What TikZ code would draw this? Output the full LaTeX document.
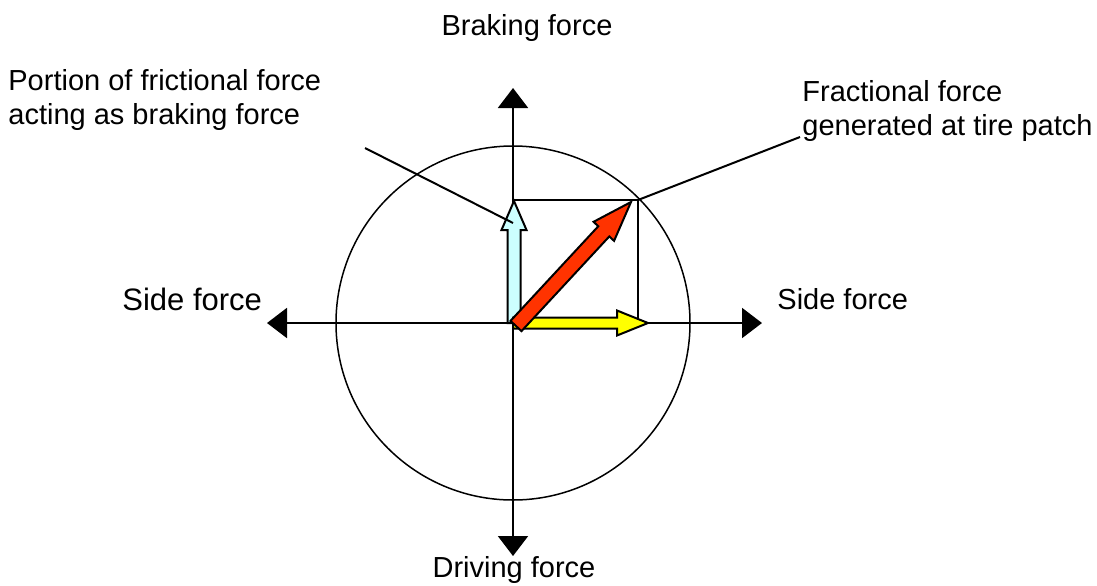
\documentclass[tikz,border=0pt]{standalone}
\usepackage{fontspec}
\setmainfont{Liberation Sans}
\usetikzlibrary{arrows.meta,calc}

\definecolor{brakeblue}{HTML}{CCFFFF}
\definecolor{sideyellow}{HTML}{FFFF00}
\definecolor{frictred}{HTML}{FF3300}

% block arrow: fill, tail, tip, head length, head half width, shaft half width
\newcommand{\blockarrow}[6]{%
  \path ($(#3)!#4!(#2)$) coordinate (hb);
  \filldraw[fill=#1, draw=black, line width=1pt, line join=miter]
    ($(#2)!#6!90:(#3)$) -- ($(hb)!#6!90:(#3)$) -- ($(hb)!#5!90:(#3)$) -- (#3)
    -- ($(hb)!#5!-90:(#3)$) -- ($(hb)!#6!-90:(#3)$) -- ($(#2)!#6!-90:(#3)$) -- cycle;
}

\begin{document}
\begin{tikzpicture}[
    x=0.5pt, y=-0.5pt,
    lbl/.style={inner sep=0pt, font=\fontsize{14.5}{17}\selectfont},
    axis/.style={line width=1pt, {Triangle[width=15pt,length=10pt]}-{Triangle[width=15pt,length=10pt]}},
    thin/.style={line width=0.75pt}
  ]
    \useasboundingbox (0,0) rectangle (1097,585);

    \coordinate (O) at (513,323);
    \coordinate (top) at (513,88);
    \coordinate (bottom) at (513,556);
    \coordinate (left) at (267,323);
    \coordinate (right) at (762,323);
    \coordinate (corner) at (638,200);

    % friction circle and force box
    \draw[thin] (O) circle[radius=88.5pt];
    \draw[axis] (bottom) -- (top);
    \draw[axis] (left) -- (right);
    \draw[thin] (513,200) -- (corner) -- (638,323);

    % force components
    \coordinate (btail) at (514,323);
    \coordinate (btip) at (514,201);
    \coordinate (ytail) at (513,323);
    \coordinate (ytip) at (648,323);
    \coordinate (rtail) at (516,326);
    \coordinate (rtip) at (631,202);
    \blockarrow{brakeblue}{btail}{btip}{14.5pt}{6.25pt}{3.25pt}
    \blockarrow{sideyellow}{ytail}{ytip}{15.5pt}{6.25pt}{2.75pt}
    \blockarrow{frictred}{rtail}{rtip}{20pt}{7pt}{3.75pt}

    % labels
    \node[lbl, anchor=base] (brake) at (527,35) {Braking force};
    \node[lbl, anchor=base] (drive) at (514,577) {Driving force};
    \node[lbl, anchor=base west, font=\fontsize{15.5}{18}\selectfont] (sideL) at (122,310) {Side force};
    \node[lbl, anchor=base west] (sideR) at (777,309) {Side force};
    \node[lbl, anchor=north west, align=left] (portion) at (8,69) {Portion of frictional force\\acting as braking force};
    \node[lbl, anchor=north west, align=left] (fract) at (802,80) {Fractional force\\generated at tire patch};

    % leaders
    \coordinate (pstart) at (365,148);
    \coordinate (pend) at (513,223);
    \coordinate (fend) at (800,137);
    \draw[line width=1pt] (pstart) -- (pend);
    \draw[line width=1pt] (corner) -- (fend);
  \end{tikzpicture}
\end{document}
